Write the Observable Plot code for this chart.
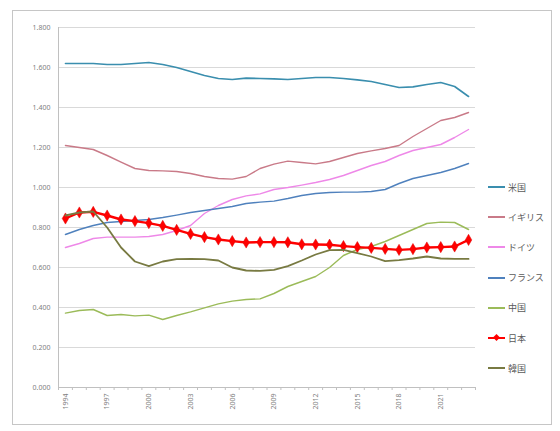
<!DOCTYPE html>
<html><head><meta charset="utf-8">
<script src="https://cdn.jsdelivr.net/npm/d3@7"></script>
<script src="https://cdn.jsdelivr.net/npm/@observablehq/plot@0.6"></script>
<style>
body{margin:0;background:#fff;}
#wrap{position:relative;width:560px;height:431px;overflow:hidden;font-family:"Noto Sans CJK JP","Noto Sans",sans-serif;}
#wrap svg{position:absolute;left:0;top:0;}
#border{position:absolute;left:12px;top:10px;width:538px;height:413px;border:1px solid #c6c6c6;}
#legend{position:absolute;left:488px;top:172px;}
.item{display:flex;align-items:center;height:30.2px;font-size:9px;color:#595959;white-space:nowrap;}
.sw{width:17px;height:2px;margin-right:3px;position:relative;}
.mk{position:absolute;left:5.5px;top:-2.5px;width:5px;height:5px;background:#ff0000;transform:rotate(45deg);}
</style></head><body><div id="wrap"><div id="border"></div><div id="legend"></div></div>
<script>
const years = [1994,1995,1996,1997,1998,1999,2000,2001,2002,2003,2004,2005,2006,2007,2008,2009,2010,2011,2012,2013,2014,2015,2016,2017,2018,2019,2020,2021,2022,2023];
const yTicks = [0, 0.2, 0.4, 0.6, 0.8, 1.0, 1.2, 1.4, 1.6, 1.8];

const us      = [1.62,1.62,1.62,1.615,1.615,1.62,1.625,1.615,1.60,1.58,1.56,1.545,1.54,1.547,1.545,1.543,1.54,1.545,1.55,1.55,1.545,1.538,1.53,1.515,1.50,1.503,1.515,1.525,1.505,1.455];
const uk      = [1.21,1.20,1.19,1.16,1.127,1.095,1.085,1.083,1.08,1.07,1.055,1.045,1.042,1.055,1.095,1.117,1.132,1.125,1.118,1.13,1.15,1.17,1.183,1.195,1.21,1.255,1.295,1.335,1.35,1.375];
const germany = [0.70,0.72,0.745,0.752,0.752,0.752,0.755,0.765,0.785,0.81,0.87,0.91,0.94,0.958,0.968,0.99,1.00,1.012,1.025,1.04,1.06,1.085,1.11,1.13,1.16,1.185,1.20,1.215,1.25,1.29];
const france  = [0.765,0.79,0.81,0.825,0.83,0.835,0.84,0.85,0.862,0.875,0.885,0.895,0.905,0.92,0.927,0.932,0.945,0.96,0.97,0.975,0.977,0.977,0.98,0.99,1.02,1.045,1.06,1.075,1.095,1.12];
const china   = [0.372,0.385,0.39,0.36,0.365,0.358,0.362,0.34,0.36,0.378,0.398,0.418,0.432,0.44,0.443,0.47,0.505,0.53,0.555,0.60,0.66,0.69,0.705,0.73,0.76,0.79,0.82,0.827,0.825,0.79];
const japan   = [0.845,0.875,0.878,0.86,0.84,0.832,0.822,0.808,0.788,0.768,0.752,0.74,0.732,0.725,0.727,0.727,0.726,0.716,0.715,0.714,0.707,0.702,0.698,0.693,0.688,0.692,0.70,0.702,0.705,0.738];
const korea   = [0.86,0.875,0.88,0.80,0.70,0.63,0.607,0.63,0.642,0.643,0.642,0.635,0.60,0.585,0.583,0.588,0.607,0.635,0.665,0.687,0.688,0.672,0.655,0.632,0.637,0.645,0.655,0.645,0.643,0.643];

const names  = ["米国","イギリス","ドイツ","フランス","中国","日本","韓国"];
const colors = ["#3a8eae","#c97a88","#ee88e8","#4f81bd","#9bbb59","#ff0000","#787a42"];
const widths = [1.6,1.4,1.4,1.4,1.4,2.4,1.8];
const values = [us, uk, germany, france, china, japan, korea];

const n = years.length;
const bounds = d3.range(n + 1).map(i => i - 0.5);
const labelIdx = d3.range(n).filter(i => i % 3 === 0);

const lineMarks = [];
values.forEach((vals, k) => {
  lineMarks.push(Plot.line(vals, {x: (d, i) => i, y: d => d, stroke: colors[k], strokeWidth: widths[k]}));
  if (names[k] === "日本") {
    lineMarks.push(Plot.dot(vals, {x: (d, i) => i, y: d => d, symbol: "diamond", r: 3.4, fill: colors[k], stroke: "#e00000", strokeWidth: 0.5}));
  }
});

const chart = Plot.plot({
  width: 560, height: 431,
  marginLeft: 58, marginRight: 85, marginTop: 27, marginBottom: 44,
  style: {background: "transparent", fontFamily: "'Noto Sans', sans-serif"},
  x: {domain: [-0.5, n - 0.5], axis: null},
  y: {domain: [0, 1.8], axis: null},
  marks: [
    Plot.gridY(yTicks, {stroke: "#d9d9d9", strokeOpacity: 1}),
    Plot.axisY(yTicks, {tickSize: 0, tickPadding: 8, tickFormat: d3.format(".3f"), fontSize: 7, fill: "#7f7f7f", label: null}),
    Plot.ruleX(bounds.slice(0, 1), {stroke: "#c0c0c0"}),
    Plot.ruleY(yTicks.slice(0, 1), {stroke: "#c0c0c0"}),
    Plot.axisX(bounds, {tickSize: 3, tickFormat: () => "", stroke: "#c0c0c0", label: null}),
    Plot.axisX(labelIdx, {tickSize: 0, tickPadding: 6, tickRotate: -90, tickFormat: i => String(years[i]), fontSize: 7, fill: "#7f7f7f", label: null}),
    ...lineMarks
  ]
});
document.getElementById("wrap").prepend(chart);

const legend = document.getElementById("legend");
names.forEach((nm, k) => {
  const it = document.createElement("div");
  it.className = "item";
  const sw = document.createElement("div");
  sw.className = "sw";
  sw.style.background = colors[k];
  if (nm === "日本") { const mk = document.createElement("div"); mk.className = "mk"; sw.appendChild(mk); }
  it.appendChild(sw);
  const t = document.createElement("span");
  t.textContent = nm;
  it.appendChild(t);
  legend.appendChild(it);
});
</script>
</body></html>
